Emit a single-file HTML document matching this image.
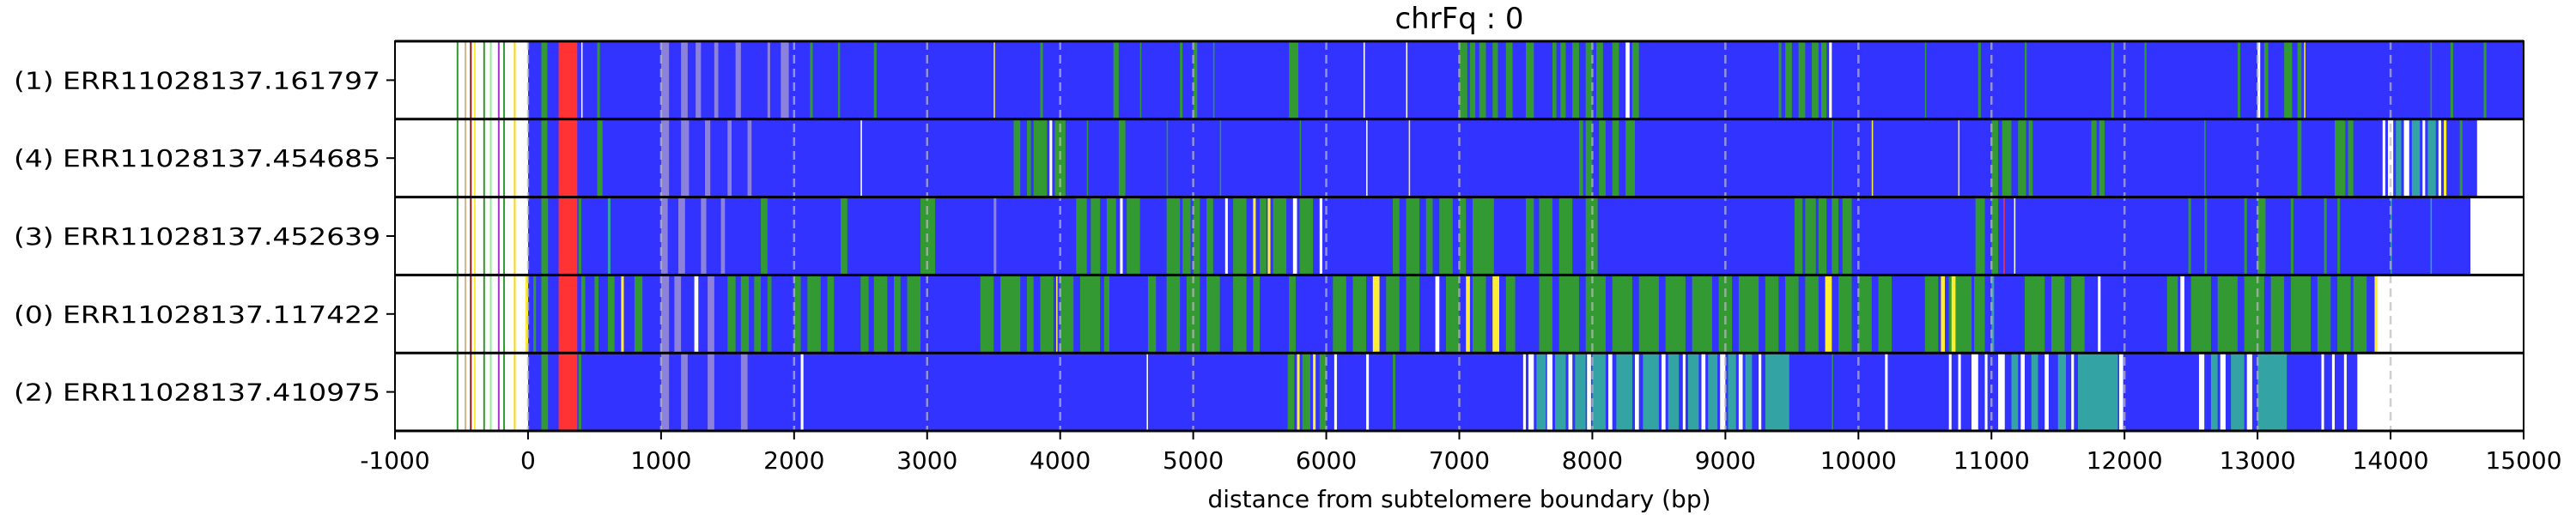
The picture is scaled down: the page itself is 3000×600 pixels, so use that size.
<!DOCTYPE html>
<html><head><meta charset="utf-8"><style>
html,body{margin:0;padding:0;background:#fff;}
svg{display:block;font-family:"DejaVu Sans","Liberation Sans",sans-serif;}
</style></head><body>
<svg id="chart" width="3000" height="600" viewBox="0 0 3000 600" xmlns="http://www.w3.org/2000/svg">
<g id="marks"></g>
<g id="axes"></g>
</svg>
<script>
const title = "chrFq : 0";
const xLabel = "distance from subtelomere boundary (bp)";
const xTicks = [-1000,0,1000,2000,3000,4000,5000,6000,7000,8000,9000,10000,11000,12000,13000,14000,15000];
const rowLabels = ["(1) ERR11028137.161797","(4) ERR11028137.454685","(3) ERR11028137.452639","(0) ERR11028137.117422","(2) ERR11028137.410975"];
const rowEnds = [15000,14650,14600,13900,13750];
const preLines = [[-530,"G"],[-470,"N"],[-430,"M"],[-400,"Y"],[-330,"G"],[-280,"P"],[-220,"V"],[-180,"G"],[-100,"O"]];
const row1 = [[100,145,"G"],[230,370,"R"],[400,410,"W"],[520,540,"G"],[1000,1060,"L"],[1150,1200,"L"],[1260,1300,"L"],[1400,1430,"L"],[1560,1600,"L"],[1800,1820,"L"],[1900,1960,"L"],[2120,2140,"G"],[2330,2345,"G"],[2600,2620,"G"],[3500,3510,"Y"],[3850,3870,"G"],[4400,4440,"G"],[4600,4610,"G"],[4900,4920,"G"],[5000,5030,"G"],[5150,5160,"G"],[5720,5790,"G"],[6280,6290,"W"],[6600,6610,"W"],[7000,7060,"G"],[7080,7120,"G"],[7150,7200,"G"],[7250,7290,"G"],[7350,7400,"G"],[7500,7560,"G"],[7700,7730,"G"],[7760,7800,"G"],[7850,7900,"G"],[7950,8000,"G"],[8030,8080,"G"],[8150,8200,"G"],[8250,8280,"W"],[8300,8350,"G"],[9400,9420,"G"],[9450,9500,"G"],[9550,9600,"G"],[9650,9700,"G"],[9720,9760,"G"],[9780,9800,"W"],[10500,10510,"G"],[10900,10920,"G"],[11250,11265,"G"],[11900,11920,"G"],[12150,12165,"G"],[12850,12870,"G"],[13000,13020,"W"],[13050,13080,"G"],[13200,13260,"G"],[13300,13330,"G"],[13350,13360,"Y"],[14300,14310,"G"],[14450,14470,"G"],[14700,14720,"G"]];
const row4 = [[100,145,"G"],[230,370,"R"],[520,560,"G"],[1000,1060,"L"],[1150,1210,"L"],[1330,1370,"L"],[1500,1530,"L"],[1650,1680,"L"],[2500,2510,"W"],[3650,3700,"G"],[3750,3780,"G"],[3800,3900,"G"],[3920,3940,"W"],[3960,4040,"G"],[4200,4210,"G"],[4440,4490,"G"],[4800,4810,"G"],[5200,5210,"G"],[5800,5810,"G"],[6300,6310,"W"],[6620,6630,"Y"],[7900,7930,"G"],[7950,8000,"G"],[8050,8100,"G"],[8150,8200,"G"],[8250,8320,"G"],[9800,9810,"G"],[10100,10110,"Y"],[10750,10760,"Y"],[11000,11050,"G"],[11080,11150,"G"],[11200,11260,"G"],[11280,11310,"G"],[11750,11790,"G"],[11810,11850,"G"],[12600,12610,"G"],[13300,13330,"G"],[13580,13660,"G"],[13680,13720,"G"],[13940,13960,"W"],[13980,14020,"W"],[14040,14080,"T"],[14100,14140,"W"],[14160,14220,"T"],[14240,14260,"W"],[14280,14340,"T"],[14360,14380,"W"],[14400,14420,"Y"],[14520,14540,"G"]];
const row3 = [[100,150,"G"],[230,370,"R"],[380,400,"G"],[600,620,"T"],[1000,1050,"L"],[1130,1180,"L"],[1300,1340,"L"],[1450,1480,"L"],[1750,1800,"G"],[2350,2400,"G"],[2950,3060,"G"],[3500,3520,"L"],[4120,4200,"G"],[4230,4300,"G"],[4350,4420,"G"],[4450,4470,"W"],[4500,4600,"G"],[4800,4900,"G"],[4920,4980,"G"],[5000,5050,"G"],[5100,5150,"G"],[5240,5260,"W"],[5300,5400,"G"],[5450,5470,"Y"],[5500,5550,"G"],[5560,5580,"Y"],[5600,5700,"G"],[5750,5780,"W"],[5800,5900,"G"],[5950,5970,"W"],[6500,6550,"G"],[6600,6700,"G"],[6750,6800,"G"],[6850,6950,"G"],[7000,7050,"G"],[7100,7260,"G"],[7500,7560,"G"],[7600,7700,"G"],[7750,7850,"G"],[7950,8040,"G"],[9520,9580,"G"],[9600,9680,"G"],[9700,9760,"G"],[9800,9850,"G"],[9880,9950,"G"],[10880,10950,"G"],[11000,11050,"G"],[11090,11100,"R"],[11170,11180,"W"],[12480,12500,"G"],[12600,12620,"G"],[12900,12920,"G"],[13000,13060,"G"],[13250,13270,"G"],[13500,13520,"G"],[13600,13620,"G"],[14000,14010,"T"],[14300,14310,"T"]];
const row0 = [[-20,0,"Y"],[40,60,"G"],[100,150,"G"],[230,370,"R"],[400,430,"G"],[500,530,"G"],[600,650,"G"],[700,720,"Y"],[800,860,"G"],[1000,1060,"L"],[1100,1150,"L"],[1250,1280,"W"],[1350,1400,"L"],[1500,1560,"G"],[1600,1660,"G"],[1700,1750,"G"],[1800,1830,"G"],[2000,2050,"G"],[2100,2200,"G"],[2250,2300,"G"],[2500,2560,"G"],[2600,2700,"G"],[2750,2800,"G"],[2850,2950,"G"],[3400,3500,"G"],[3550,3700,"G"],[3750,3800,"G"],[3850,3950,"G"],[3970,3980,"Y"],[4000,4100,"G"],[4150,4300,"G"],[4330,4370,"G"],[4660,4720,"G"],[4800,4900,"G"],[4950,5050,"G"],[5100,5200,"G"],[5300,5400,"G"],[5450,5500,"G"],[5720,5770,"G"],[6050,6150,"G"],[6200,6300,"G"],[6350,6400,"Y"],[6450,6550,"G"],[6600,6700,"G"],[6820,6850,"W"],[6900,7000,"G"],[7050,7080,"Y"],[7100,7200,"G"],[7250,7300,"Y"],[7350,7420,"G"],[7600,7700,"G"],[7750,7900,"G"],[7950,8100,"G"],[8150,8300,"G"],[8350,8500,"G"],[8550,8700,"G"],[8750,8900,"G"],[8950,9050,"G"],[9100,9250,"G"],[9300,9400,"G"],[9450,9550,"G"],[9600,9700,"G"],[9750,9800,"Y"],[9850,9950,"G"],[10000,10100,"G"],[10150,10250,"G"],[10500,10600,"G"],[10620,10650,"Y"],[10680,10850,"G"],[10700,10730,"Y"],[10870,10950,"G"],[11000,11020,"T"],[11250,11400,"G"],[11450,11550,"G"],[11600,11700,"G"],[11800,11820,"W"],[12320,12400,"G"],[12420,12450,"W"],[12500,12650,"G"],[12700,12850,"G"],[12900,13050,"G"],[13100,13200,"G"],[13250,13400,"G"],[13450,13550,"G"],[13600,13700,"G"],[13720,13820,"G"],[13880,13900,"Y"]];
const row2 = [[100,150,"G"],[230,370,"R"],[380,400,"G"],[1000,1060,"L"],[1150,1200,"L"],[1350,1400,"L"],[1600,1650,"L"],[2050,2070,"W"],[4650,4660,"W"],[5710,5760,"G"],[5780,5800,"Y"],[5820,5880,"G"],[5900,5920,"Y"],[5950,6000,"G"],[6060,6080,"W"],[6300,6320,"W"],[6500,6520,"G"],[7480,7500,"W"],[7520,7560,"W"],[7580,7650,"T"],[7660,7700,"W"],[7720,7800,"T"],[7820,7850,"W"],[7870,7950,"T"],[7960,7990,"W"],[8000,8100,"T"],[8120,8150,"W"],[8180,8300,"T"],[8320,8350,"W"],[8380,8500,"T"],[8520,8550,"W"],[8570,8650,"T"],[8680,8700,"W"],[8720,8800,"T"],[8820,8850,"W"],[8870,8940,"T"],[8960,9000,"W"],[9020,9080,"T"],[9100,9130,"W"],[9150,9200,"T"],[9250,9270,"W"],[9300,9480,"T"],[9800,9810,"G"],[10200,10220,"W"],[10680,10700,"W"],[10750,10770,"W"],[10850,10900,"W"],[10950,10970,"W"],[11050,11100,"W"],[11150,11200,"T"],[11220,11250,"W"],[11300,11350,"T"],[11400,11430,"W"],[11500,11560,"T"],[11600,11620,"W"],[11650,11950,"T"],[11960,11990,"W"],[12560,12600,"W"],[12650,12700,"T"],[12720,12760,"W"],[12800,12900,"T"],[12920,12960,"W"],[13000,13220,"T"],[13480,13500,"W"],[13560,13580,"W"],[13650,13670,"W"]];
const rowStripes = [row1,row4,row3,row0,row2];

const COL = {B:"#3333ff",G:"#339933",R:"#ff3333",L:"#8c82dc",T:"#33a3a3",W:"#ffffff",Y:"#ffee33",N:"#d2b48c",M:"#8b1a1a",P:"#90ee90",V:"#aa33cc",O:"#ffd700"};
const PL=460, PR=2939, PT=48, PB=502, XMIN=-1000, XMAX=15000;
const rowH=(PB-PT)/rowLabels.length;
const xs = v => PL + (v-XMIN)/(XMAX-XMIN)*(PR-PL);
const NS="http://www.w3.org/2000/svg";
function mk(tag, attrs, parent){const e=document.createElementNS(NS,tag);for(const k in attrs)e.setAttribute(k,attrs[k]);parent.appendChild(e);return e;}
const marks=document.getElementById('marks'), axes=document.getElementById('axes');

rowLabels.forEach((lab,i)=>{
  const y0=PT+i*rowH;
  const g=mk('g',{},marks);
  
  
  preLines.forEach(p=>{
    const l=mk('rect',{x:xs(p[0])-1,y:y0,width:2,height:rowH,fill:COL[p[1]]},g);
    
    
  });
  const base=mk('rect',{x:xs(0),y:y0,width:xs(rowEnds[i])-xs(0),height:rowH,fill:COL.B},g);
  
  
  rowStripes[i].forEach(s=>{
    const r=mk('rect',{x:xs(s[0]),y:y0,width:Math.max(1.5,xs(s[1])-xs(s[0])),height:rowH,fill:COL[s[2]]},g);
    
    
  });
});
xTicks.forEach(t=>{
  if(t<=XMIN||t>=XMAX) return;
  const l=mk('line',{x1:xs(t),x2:xs(t),y1:PT,y2:PB,stroke:"#bbbbbb","stroke-width":2.5,"stroke-dasharray":"10,6",opacity:0.7},marks);
  
  
});
for(let i=0;i<=rowLabels.length;i++){
  const y=PT+i*rowH;
  const l=mk('line',{x1:PL,x2:PR,y1:y,y2:y,stroke:"#000","stroke-width":3},axes);
  
  
}
const fr=mk('rect',{x:PL,y:PT,width:PR-PL,height:PB-PT,fill:"none",stroke:"#000","stroke-width":2},axes);


rowLabels.forEach((lab,i)=>{
  const yc=PT+(i+0.5)*rowH;
  const tk=mk('line',{x1:PL-10,x2:PL,y1:yc,y2:yc,stroke:"#000","stroke-width":2},axes);
  
  
  const t=mk('text',{x:PL-17,y:yc+10,"text-anchor":"end","font-size":28,"textLength":427,"lengthAdjust":"spacingAndGlyphs",fill:"#000"},axes);
  t.textContent=lab;
  
  
});
xTicks.forEach(v=>{
  const tk=mk('line',{x1:xs(v),x2:xs(v),y1:PB,y2:PB+10,stroke:"#000","stroke-width":2},axes);
  
  
  const t=mk('text',{x:xs(v),y:PB+44,"text-anchor":"middle","font-size":28,fill:"#000"},axes);
  t.textContent=String(v);
  
  
});
const xl=mk('text',{x:(PL+PR)/2,y:591,"text-anchor":"middle","font-size":28,fill:"#000"},axes);
xl.textContent=xLabel;


const tt=mk('text',{x:(PL+PR)/2,y:33,"text-anchor":"middle","font-size":34,fill:"#000"},axes);
tt.textContent=title;


</script>
</body></html>
